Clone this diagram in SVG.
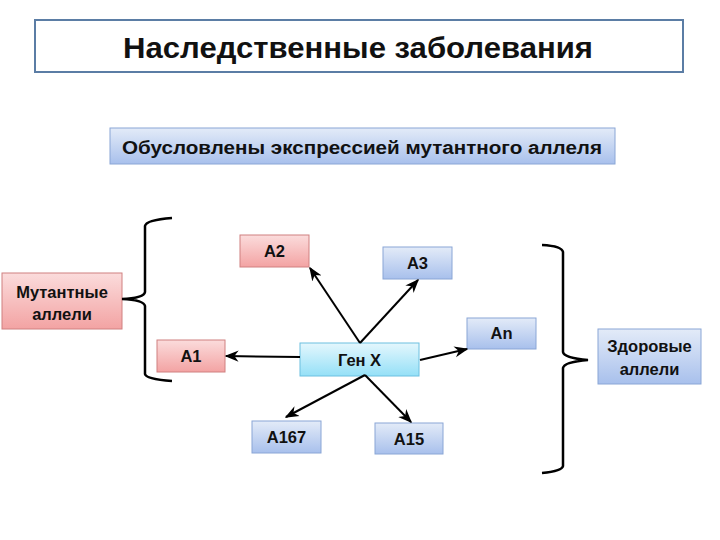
<svg xmlns="http://www.w3.org/2000/svg" width="720" height="540" viewBox="0 0 720 540">
<defs>
<linearGradient id="gr" x1="0" y1="0" x2="0" y2="1"><stop offset="0" stop-color="#fbdcdc"/><stop offset="1" stop-color="#f3a3a3"/></linearGradient>
<linearGradient id="gb" x1="0" y1="0" x2="0" y2="1"><stop offset="0" stop-color="#e3ebf8"/><stop offset="1" stop-color="#a8c0ec"/></linearGradient>
<linearGradient id="gc" x1="0" y1="0" x2="0" y2="1"><stop offset="0" stop-color="#e4f7fd"/><stop offset="1" stop-color="#95e0f7"/></linearGradient>
<marker id="ah" viewBox="0 0 10 10" refX="9" refY="5" markerWidth="7" markerHeight="7" orient="auto-start-reverse"><path d="M0,1 L10,5 L0,9 L3,5 z" fill="#000"/></marker>
</defs>
<style>
text{font-family:"Liberation Sans",Arial,sans-serif;font-weight:bold;fill:#111;text-anchor:middle}
.r{fill:url(#gr);stroke:#d08080;stroke-width:1}
.b{fill:url(#gb);stroke:#8aa6d6;stroke-width:1}
.c{fill:url(#gc);stroke:#6cc0e0;stroke-width:1}
.t{font-size:16.5px}
.con line,.con path{stroke:#000;stroke-width:2;fill:none}
.con path{stroke-width:2.5}
</style>
<rect width="720" height="540" fill="#fff"/>
<g id="title"><rect x="35" y="20" width="648" height="52" fill="#fff" stroke="#5b7da5" stroke-width="2"/><text x="358" y="58" font-size="30" textLength="470" lengthAdjust="spacingAndGlyphs">Наследственные заболевания</text></g>
<g id="subtitle"><rect x="110" y="128" width="505" height="36" class="b"/><text x="362" y="154" font-size="18" textLength="480" lengthAdjust="spacingAndGlyphs">Обусловлены экспрессией мутантного аллеля</text></g>
<g id="mut"><rect x="2" y="273" width="120" height="56" class="r"/><text x="62" y="298" class="t">Мутантные</text><text x="62" y="320" class="t">аллели</text></g>
<g id="a2"><rect x="240" y="235" width="69" height="32" class="r"/><text x="274.5" y="257" class="t">A2</text></g>
<g id="a3"><rect x="383" y="247" width="69" height="32" class="b"/><text x="417.5" y="269" class="t">A3</text></g>
<g id="a1"><rect x="157" y="340" width="68" height="32" class="r"/><text x="191" y="362" class="t">A1</text></g>
<g id="genx"><rect x="300" y="343" width="119" height="33" class="c"/><text x="359.5" y="366" class="t">Ген X</text></g>
<g id="an"><rect x="467" y="318" width="69" height="31" class="b"/><text x="501.5" y="339" class="t">An</text></g>
<g id="a167"><rect x="252" y="421" width="69" height="32" class="b"/><text x="286.5" y="443" class="t">A167</text></g>
<g id="a15"><rect x="375" y="423" width="68" height="31" class="b"/><text x="409" y="445" class="t">A15</text></g>
<g id="healthy"><rect x="598" y="329" width="103" height="55" class="b"/><text x="649.5" y="352" class="t">Здоровые</text><text x="649.5" y="375" class="t">аллели</text></g>
<g class="con" id="connectors">
<line x1="360" y1="343" x2="310" y2="268" marker-end="url(#ah)"/>
<line x1="360" y1="343" x2="418" y2="280" marker-end="url(#ah)"/>
<line x1="300" y1="357" x2="226" y2="356" marker-end="url(#ah)"/>
<line x1="420" y1="360" x2="467" y2="349" marker-end="url(#ah)"/>
<line x1="365" y1="375" x2="286" y2="417" marker-end="url(#ah)"/>
<line x1="365" y1="375" x2="411" y2="422" marker-end="url(#ah)"/>
<path d="M172,218 Q146,220 145,226 L145,292 Q144,298 122,299 Q144,300 145,306 L145,374 Q146,379 172,381"/>
<path d="M542,245 Q562,246 563,252 L563,352 Q564,358 588,360 Q564,362 563,368 L563,466 Q562,471 542,473"/>
</g>
</svg>
